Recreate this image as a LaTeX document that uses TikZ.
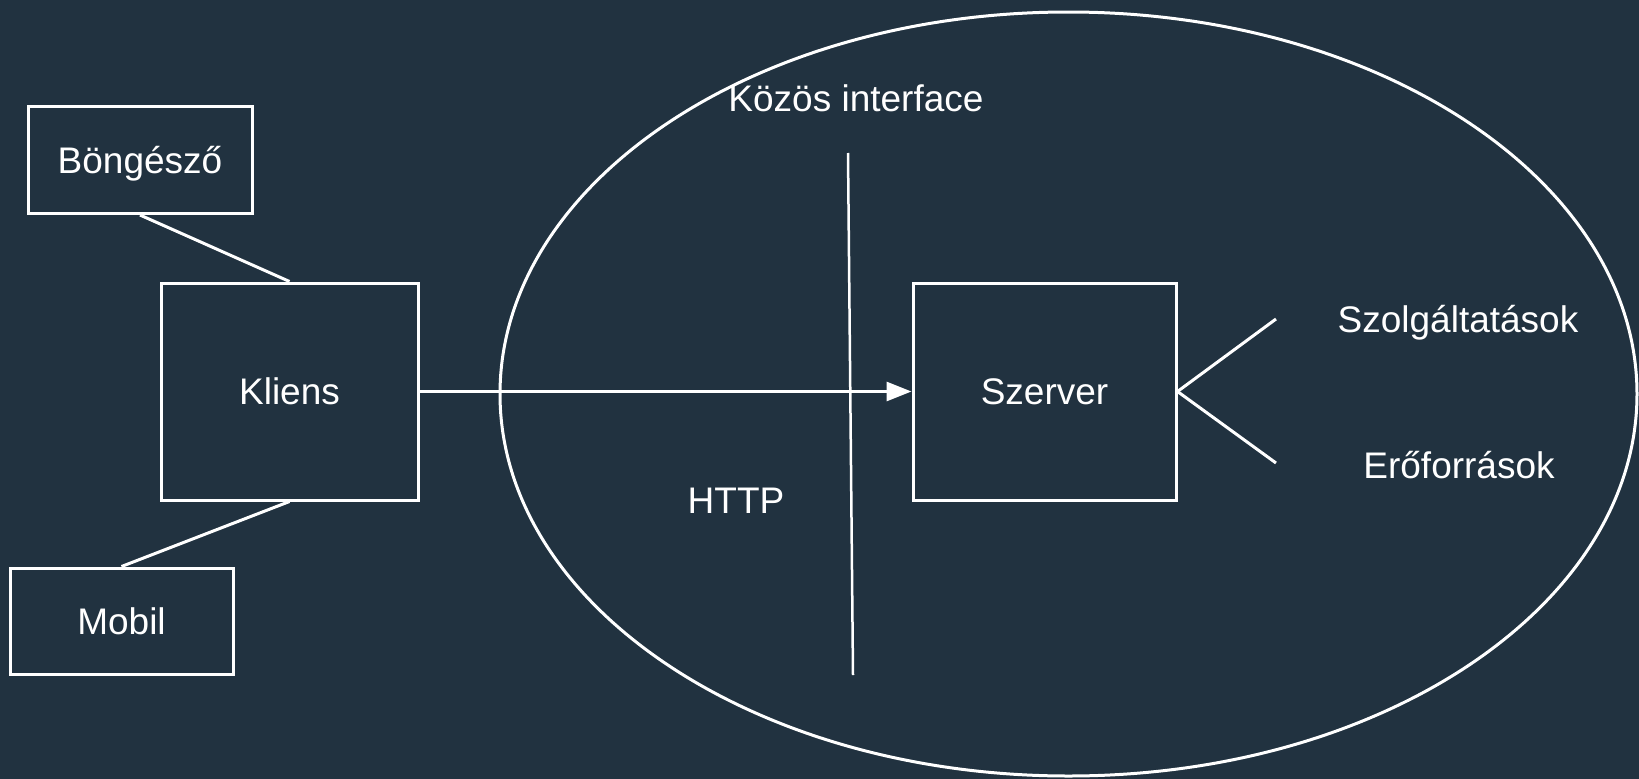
\documentclass[tikz,border=0pt]{standalone}
\usepackage{fontspec}
\setmainfont{Liberation Sans}
\usetikzlibrary{arrows.meta,shapes.geometric}
\definecolor{bgnavy}{HTML}{213240}
\tikzset{
  lbl/.style={text=white, font=\fontsize{37}{44}\selectfont, inner sep=0pt},
  boxnode/.style={lbl, draw=white, line width=3pt, text height=26pt, text depth=0pt, align=center},
  wire/.style={draw=white, line width=3pt},
}
\begin{document}
\begin{tikzpicture}[x=1pt, y=-1pt]
\fill[bgnavy] (0,0) rectangle (1639,779);
\useasboundingbox (0,0) rectangle (1639,779);

% nodes
\node[boxnode, minimum width=224pt, minimum height=107pt] (bong) at (140,160) {Böngésző};
\node[boxnode, minimum width=257pt, minimum height=217pt] (kliens) at (289.5,391.5) {Kliens};
\node[boxnode, minimum width=223pt, minimum height=106pt] (mobil) at (121.5,621) {Mobil};
\node[boxnode, minimum width=263pt, minimum height=217pt] (szerver) at (1044.5,391.5) {Szerver};

\node[draw=white, line width=3pt, ellipse, inner sep=0pt, minimum width=1137pt, minimum height=764pt] (zone) at (1068.5,394) {};

\node[lbl, anchor=base] (kozos) at (856,111) {Közös interface};
\node[lbl, anchor=base] (http) at (736,513) {HTTP};
\node[lbl, anchor=base] (szolg) at (1458,332) {Szolgáltatások};
\node[lbl, anchor=base] (ero) at (1459,478) {Erőforrások};

\coordinate (itop) at (848,153);
\coordinate (ibot) at (853,675);
\coordinate (s1) at (1276,319);
\coordinate (s2) at (1276,463);

% connectors
\draw[wire] (bong.south) -- (kliens.north);
\draw[wire] (kliens.south) -- (mobil.north);
\draw[wire, line width=2.5pt] (itop) -- (ibot);
\draw[wire, -{Triangle[length=25pt,width=19pt]}] (kliens.east) -- (szerver.west);
\draw[wire] (szerver.east) -- (s1);
\draw[wire] (szerver.east) -- (s2);
\end{tikzpicture}
\end{document}
